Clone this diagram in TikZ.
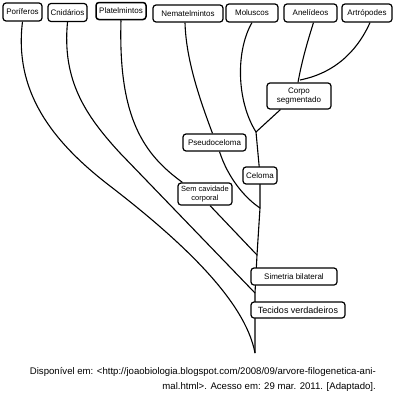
\documentclass[tikz,border=0pt]{standalone}
\usepackage{fontspec}
\setmainfont{Liberation Sans}
\usetikzlibrary{backgrounds,calc}
\begin{document}
\begin{tikzpicture}[x=1pt,y=-1pt,
  box/.style={draw, line width=1.2pt, rounded corners=3pt, fill=white, inner sep=0pt,
    font=\fontsize{8}{9.5}\selectfont, align=center},
  br/.style={line width=1.1pt}]
\useasboundingbox (0,0) rectangle (394,394);
% top taxa
\node[box, minimum width=39pt, minimum height=18pt] (por) at (22.5,12) {Poríferos};
\node[box, minimum width=39pt, minimum height=18pt] (cni) at (67.5,12.5) {Cnidários};
\node[box, line width=1.5pt, minimum width=50pt, minimum height=17pt] (pla) at (121,11) {Platelmintos};
\node[box, minimum width=70pt, minimum height=17pt] (nem) at (188,13.5) {Nematelmintos};
\node[box, minimum width=52pt, minimum height=18pt] (mol) at (252,13) {Moluscos};
\node[box, minimum width=53pt, minimum height=18pt] (ane) at (310.5,13) {Anelídeos};
\node[box, minimum width=50pt, minimum height=18pt] (art) at (367,13) {Artrópodes};
% characters
\node[box, minimum width=64pt, minimum height=26pt] (cs) at (299,96) {Corpo\\segmentado};
\node[box, minimum width=63pt, minimum height=17pt] (pse) at (214.5,142.5) {Pseudoceloma};
\node[box, minimum width=34pt, minimum height=17pt] (cel) at (260,175.5) {Celoma};
\node[box, minimum width=54pt, minimum height=22pt, font=\fontsize{7.5}{9}\selectfont] (sem) at (205,194) {Sem cavidade\\corporal};
\node[box, minimum width=86pt, minimum height=17pt] (sim) at (294,276.5) {Simetria bilateral};
\node[box, minimum width=94pt, minimum height=16pt, font=\fontsize{9}{10}\selectfont] (tec) at (298,310) {Tecidos verdadeiros};
% junctions
\coordinate (root) at (255,353);
\coordinate (jcni) at (255,293);
\coordinate (jpla) at (257,255);
\coordinate (jnem) at (260,208);
\coordinate (jmol) at (256,132);
\coordinate (jart) at (300,80);
\begin{scope}[on background layer]
  \draw[br] (root) -- (jcni) -- (jpla) -- (jnem) -- (cel.center) -- (jmol);
  \draw[br] (por.south) .. controls (14,90) and (50,140) .. (110,186)
            .. controls (180,240) and (245,300) .. (root);
  \draw[br] (cni.south) .. controls (62,80) and (85,115) .. (120,153) -- (jcni);
  \draw[br] (pla.south) .. controls (118,120) and (145,155) .. ($(sem.north west)+(5,0)$);
  \draw[br] ($(sem.south)+(5,0)$) -- (jpla);
  \draw[br] ($(nem.south)+(-3,0)$) .. controls (186,60) and (200,100) .. ($(pse.north)+(-2,0)$);
  \draw[br] ($(pse.south)+(5,0)$) .. controls (228,178) and (245,198) .. (jnem);
  \draw[br] (jmol) -- ($(cs.south west)+(14,0)$);
  \draw[br] (jmol) .. controls (236,100) and (236,50) .. (mol.south);
  \draw[br] ($(cs.north)+(-1,0)$) .. controls (302,60) and (308,40) .. ($(ane.south)+(3,0)$);
  \draw[br] (jart) .. controls (340,72) and (360,45) .. ($(art.south)+(3,0)$);
\end{scope}
% source
\node[anchor=north east, align=right, inner sep=0pt, font=\fontsize{9.6}{15}\selectfont] (src) at (376,367)
  {Disponível em: <http://joaobiologia.blogspot.com/2008/09/arvore-filogenetica-ani-\\mal.html>. Acesso em: 29 mar. 2011. [Adaptado].};
\end{tikzpicture}
\end{document}
